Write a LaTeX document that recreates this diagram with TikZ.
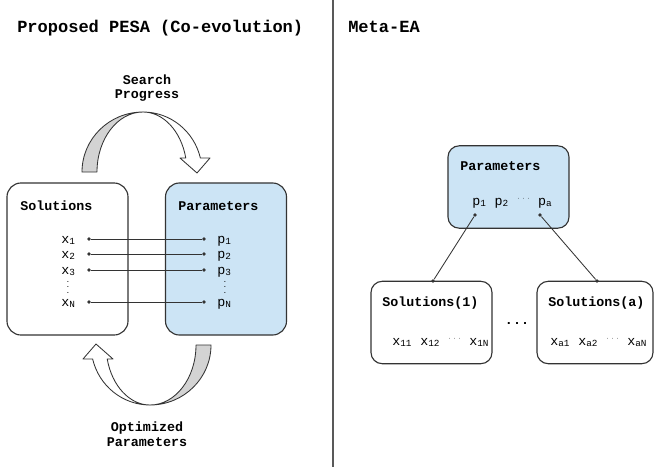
\documentclass[tikz,border=0pt]{standalone}
\usepackage{fontspec}
\setmonofont{Liberation Mono}
\definecolor{boxblue}{RGB}{204,228,245}
\definecolor{arrowgray}{RGB}{211,211,211}
\definecolor{edgegray}{RGB}{51,51,51}
\newcommand{\midots}{\raisebox{3pt}{\tiny$\cdots$}}

\begin{document}
\begin{tikzpicture}[x=0.025cm, y=-0.025cm,
  every node/.style={inner sep=0pt, font=\ttfamily\fontsize{9.5}{10.5}\selectfont},
  box/.style={draw=edgegray, line width=0.8pt, rounded corners=10pt, minimum width=3.025cm, minimum height=3.8cm},
  metabox/.style={box, rounded corners=8pt, minimum height=2.06cm},
  head/.style={font=\ttfamily\bfseries\fontsize{9.5}{10.5}\selectfont, anchor=base west},
  title/.style={font=\ttfamily\bfseries\fontsize{12.1}{14}\selectfont, anchor=base west},
  var/.style={anchor=base west},
  dot/.style={circle, fill=edgegray, minimum size=2.6pt},
  link/.style={draw=edgegray, line width=0.6pt},
  arrowline/.style={draw=edgegray, line width=0.6pt, line join=round},
  cyclearrow/.pic={
    % shaded back of the band
    \draw[arrowline, fill=arrowgray] (-61,0)
      arc[start angle=180, end angle=270, x radius=61, y radius=60]
      arc[start angle=270, end angle=180, x radius=46, y radius=60] -- cycle;
    % front of the band with its head
    \draw[arrowline, fill=white] (0,-60)
      arc[start angle=270, end angle=346.5, x radius=59, y radius=60]
      -- (67,-14) -- (54,1) -- (37,-14) -- (346.5:44 and 60)
      arc[start angle=346.5, end angle=270, x radius=44, y radius=60] -- cycle;
  }]
  \useasboundingbox (0,0) rectangle (655,467);

  % Left panel
  \node[title] (lefttitle) at (17,32.5) {Proposed PESA (Co-evolution)};
  \node[box] (sol) at (67.5,259) {};
  \node[box, fill=boxblue] (par) at (226,259) {};
  \node[head] (solhead) at (20,210) {Solutions};
  \node[head] (parhead) at (178,210) {Parameters};
  \foreach \i/\y in {1/239, 2/254, 3/270, N/302} {
    \node[dot] (xd\i) at (89,\y) {};
    \node[dot] (pd\i) at (204,\y) {};
    \draw[link] (xd\i) -- (pd\i);
    \node[var] (x\i) at (61,\y+4) {x\textsubscript{\i}};
    \node[var] (p\i) at (217,\y+4) {p\textsubscript{\i}};
  }
  \node (xvdots) at (68,283) {\tiny$\vdots$};
  \node (pvdots) at (225,283) {\tiny$\vdots$};

  % Arrows between the two boxes
  \pic at (143,172) {cyclearrow};
  \pic[rotate=180] at (150,345) {cyclearrow};
  \node[head, anchor=center, align=center] (search) at (147,88) {Search\\Progress};
  \node[head, anchor=center, align=center] (optim) at (147,434) {Optimized\\Parameters};

  % Divider
  \coordinate (divtop) at (333,0);
  \coordinate (divbot) at (333,467);
  \draw[draw=gray!70!black, line width=0.8pt] (divtop) -- (divbot);

  % Right panel
  \node[title] (righttitle) at (348,32.5) {Meta-EA};
  \node[metabox, fill=boxblue] (mpar) at (508.5,187) {};
  \node[head] (mparhead) at (460,170) {Parameters};
  \node[var] (prow) at (472,205) {p\textsubscript{1} p\textsubscript{2} \midots{} p\textsubscript{a}};
  \node[metabox] (sol1) at (431.5,322.5) {};
  \node[metabox, minimum width=2.9cm] (sola) at (595,322.5) {};
  \node[head] (sol1head) at (382,306) {Solutions(1)};
  \node[head] (solahead) at (548,306) {Solutions(a)};
  \node[var] (xrow1) at (392,345) {x\textsubscript{11} x\textsubscript{12} \midots{} x\textsubscript{1N}};
  \node[var] (xrowa) at (550,345) {x\textsubscript{a1} x\textsubscript{a2} \midots{} x\textsubscript{aN}};
  \node[font=\ttfamily\bfseries\fontsize{9.5}{10.5}\selectfont] (gap) at (517,323) {...};
  \node[dot] (pfirst) at (475,215) {};
  \node[dot] (plast) at (540,215) {};
  \node[dot] (s1top) at (433,281) {};
  \node[dot] (satop) at (597,281) {};
  \draw[link] (pfirst) -- (s1top);
  \draw[link] (plast) -- (satop);
\end{tikzpicture}
\end{document}
